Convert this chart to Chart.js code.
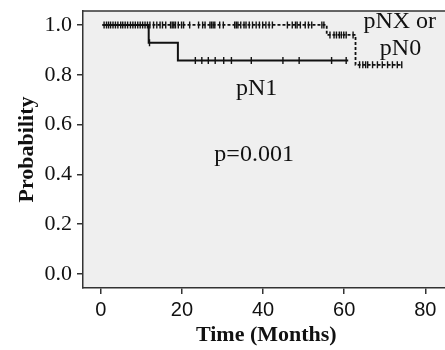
<!DOCTYPE html>
<html><head><meta charset="utf-8">
<style>html,body{margin:0;padding:0;overflow:hidden;background:#fff;width:445px;height:350px}
#wrap{position:relative;width:455px;height:350px}</style>
<script src="https://cdn.jsdelivr.net/npm/chart.js@4/dist/chart.umd.min.js"></script>
</head><body><div id="wrap"><canvas id="c" width="455" height="350"></canvas></div>
<script>
const pN0Times = [0.4, 55.7, 62.8, 74.2];
const pN0Probs = [1.0, 0.96, 0.84, 0.84];
const pN0Censored = [0.8,1.4,1.9,2.4,3.0,3.6,4.2,4.9,5.4,6.0,6.6,7.3,7.9,8.5,9.1,9.7,10.3,10.9,11.5,12.1,13.0,13.8,14.6,15.2,16.0,17.2,17.6,18.0,18.4,19.1,19.9,20.4,21.9,24.1,25.1,25.7,26.9,27.3,27.7,28.1,29.3,30.2,33.0,33.4,33.8,34.5,35.3,35.8,36.6,37.4,38.3,39.1,39.9,40.7,41.5,42.3,46.0,47.2,48.0,48.4,49.2,50.4,51.2,52.0,54.5,55.0,56.5,57.5,58.1,58.8,59.3,59.9,60.5,62.2,63.8,64.6,65.3,65.8,67.0,68.2,69.4,70.7,71.9,73.1,74.2];
const pN1Times = [0.4, 11.8, 19.0, 61.0];
const pN1Probs = [1.0, 0.929, 0.857, 0.857];
const pN1Censored = [12.0,23.3,24.9,26.5,28.2,30.3,32.2,37.1,44.9,48.9,56.9,60.5];
const xTicks = [0, 20, 40, 60, 80];
const yTicks = [0, 0.2, 0.4, 0.6, 0.8, 1.0];
const annotations = [
  {text: 'pNX or', x: 73.7, y: 1.012},
  {text: 'pN0', x: 73.9, y: 0.904},
  {text: 'pN1', x: 38.4, y: 0.744},
  {text: 'p=0.001', x: 37.8, y: 0.48}
];

function kmAt(times, probs, t) {
  let p = probs[0];
  for (let i = 0; i < times.length; i++) if (times[i] <= t) p = probs[i];
  return p;
}
const curve = (times, probs) => times.map((t, i) => ({x: t, y: probs[i]}));
const marks = (cens, times, probs) => cens.map(t => ({x: t, y: kmAt(times, probs, t)}));

const bgPlugin = {
  id: 'bg',
  beforeDraw(chart) {
    const {ctx, chartArea: a} = chart;
    ctx.save();
    ctx.fillStyle = '#efefef';
    ctx.fillRect(a.left, a.top, a.right - a.left, a.bottom - a.top);
    ctx.restore();
  },
  afterDraw(chart) {
    const {ctx, chartArea: a, scales} = chart;
    ctx.save();
    ctx.strokeStyle = '#333';
    ctx.lineWidth = 1.5;
    ctx.beginPath();
    ctx.moveTo(a.left, a.top); ctx.lineTo(a.right, a.top);
    ctx.stroke();
    ctx.fillStyle = '#111';
    ctx.font = '24px "Liberation Serif", "Times New Roman", serif';
    ctx.textAlign = 'center';
    ctx.textBaseline = 'middle';
    annotations.forEach(an => {
      ctx.fillText(an.text, scales.x.getPixelForValue(an.x), scales.y.getPixelForValue(an.y));
    });
    ctx.restore();
  }
};

new Chart(document.getElementById('c'), {
  type: 'line',
  data: {
    datasets: [
      {label: 'pNX or pN0', data: curve(pN0Times, pN0Probs), stepped: true, borderColor: '#111', borderWidth: 1.8, borderDash: [3, 2], pointRadius: 0, fill: false},
      {label: 'pN1', data: curve(pN1Times, pN1Probs), stepped: true, borderColor: '#111', borderWidth: 2, pointRadius: 0, fill: false},
      {label: 'pN0 censored', type: 'scatter', data: marks(pN0Censored, pN0Times, pN0Probs), pointStyle: 'line', rotation: 90, pointRadius: 3.5, borderColor: '#111', borderWidth: 1.4, showLine: false},
      {label: 'pN1 censored', type: 'scatter', data: marks(pN1Censored, pN1Times, pN1Probs), pointStyle: 'line', rotation: 90, pointRadius: 3.5, borderColor: '#111', borderWidth: 1.4, showLine: false}
    ]
  },
  options: {
    responsive: false,
    animation: false,
    devicePixelRatio: 1,
    layout: {padding: {top: 11, right: 0, left: 0, bottom: 0}},
    plugins: {legend: {display: false}, tooltip: {enabled: false}},
    scales: {
      x: {
        type: 'linear', min: -4.4, max: 86,
        afterBuildTicks: s => { s.ticks = xTicks.map(v => ({value: v})); },
        afterFit: s => { s.height = 62; s.paddingLeft = 0; s.paddingRight = 0; },
        ticks: {color: '#111', padding: 4, font: {family: '"Liberation Sans", Arial, sans-serif', size: 20}, callback: v => String(v)},
        grid: {drawOnChartArea: false, drawTicks: true, tickLength: 6, color: '#333', lineWidth: 1.5},
        border: {display: true, color: '#333', width: 1.5},
        title: {display: true, text: 'Time (Months)', color: '#111', padding: {top: 0, bottom: 1}, font: {family: '"Liberation Serif", "Times New Roman", serif', size: 22, weight: 'bold'}}
      },
      y: {
        type: 'linear', min: -0.056, max: 1.056,
        afterBuildTicks: s => { s.ticks = yTicks.map(v => ({value: v})); },
        afterFit: s => { s.width = 83; s.paddingTop = 0; s.paddingBottom = 0; },
        ticks: {color: '#111', padding: 5, font: {family: '"Liberation Serif", "Times New Roman", serif', size: 22}, callback: v => Number(v).toFixed(1)},
        grid: {drawOnChartArea: false, drawTicks: true, tickLength: 6, color: '#333', lineWidth: 1.5},
        border: {display: true, color: '#333', width: 1.5},
        title: {display: true, text: 'Probability', color: '#111', padding: {top: 14, bottom: 0}, font: {family: '"Liberation Serif", "Times New Roman", serif', size: 22, weight: 'bold'}}
      }
    }
  },
  plugins: [bgPlugin]
});
</script></body></html>
